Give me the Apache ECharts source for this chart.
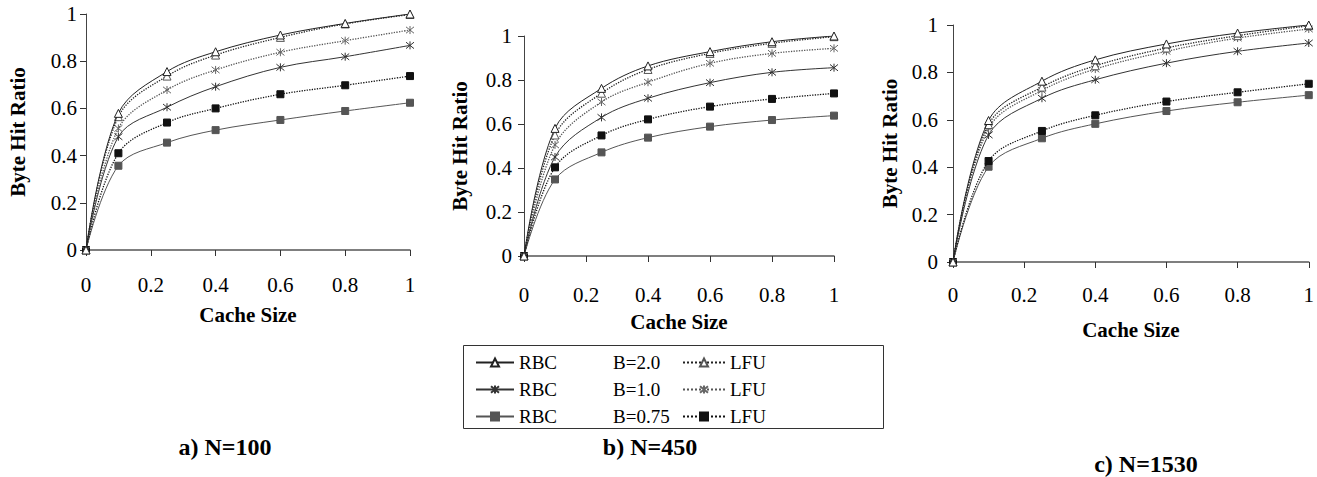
<!DOCTYPE html>
<html>
<head>
<meta charset="utf-8">
<script src="https://cdn.jsdelivr.net/npm/echarts@6/dist/echarts.min.js"></script>
<style>
  html, body { margin: 0; padding: 0; background: #fff; }
  #chart { width: 1317px; height: 477px; }
</style>
</head>
<body>
<div id="chart"></div>
<script>
// cache size points (x) shared by all three panels
var cacheSizes = [0, 0.1, 0.25, 0.4, 0.6, 0.8, 1];
var seriesNames = ['RBC B=0.75', 'LFU B=0.75', 'RBC B=1.0', 'LFU B=1.0', 'LFU B=2.0', 'RBC B=2.0'];
var betaLabels = ['B=2.0', 'B=1.0', 'B=0.75'];
var panelTitles = ['a) N=100', 'b) N=450', 'c) N=1530'];

// a) N=100
var n100_rbc075 = [0, 0.357, 0.455, 0.508, 0.551, 0.589, 0.624];
var n100_lfu075 = [0, 0.410, 0.540, 0.600, 0.660, 0.698, 0.737];
var n100_rbc10  = [0, 0.480, 0.605, 0.692, 0.774, 0.819, 0.867];
var n100_lfu10  = [0, 0.515, 0.678, 0.763, 0.838, 0.887, 0.932];
var n100_lfu20  = [0, 0.565, 0.737, 0.826, 0.901, 0.958, 0.998];
var n100_rbc20  = [0, 0.579, 0.756, 0.840, 0.911, 0.960, 1.000];

// b) N=450
var n450_rbc075 = [0, 0.348, 0.471, 0.538, 0.588, 0.618, 0.638];
var n450_lfu075 = [0, 0.403, 0.548, 0.621, 0.679, 0.714, 0.739];
var n450_rbc10  = [0, 0.450, 0.630, 0.717, 0.788, 0.835, 0.856];
var n450_lfu10  = [0, 0.505, 0.700, 0.790, 0.876, 0.921, 0.944];
var n450_lfu20  = [0, 0.550, 0.740, 0.848, 0.921, 0.967, 0.997];
var n450_rbc20  = [0, 0.580, 0.762, 0.864, 0.929, 0.974, 1.000];

// c) N=1530
var n1530_rbc075 = [0, 0.402, 0.522, 0.583, 0.637, 0.674, 0.704];
var n1530_lfu075 = [0, 0.426, 0.553, 0.619, 0.677, 0.716, 0.752];
var n1530_rbc10  = [0, 0.536, 0.691, 0.769, 0.839, 0.889, 0.924];
var n1530_lfu10  = [0, 0.564, 0.724, 0.814, 0.889, 0.945, 0.983];
var n1530_lfu20  = [0, 0.580, 0.738, 0.828, 0.903, 0.955, 0.997];
var n1530_rbc20  = [0, 0.597, 0.763, 0.853, 0.920, 0.966, 1.000];

var panels = [
  [n100_rbc075, n100_lfu075, n100_rbc10, n100_lfu10, n100_lfu20, n100_rbc20],
  [n450_rbc075, n450_lfu075, n450_rbc10, n450_lfu10, n450_lfu20, n450_rbc20],
  [n1530_rbc075, n1530_lfu075, n1530_rbc10, n1530_lfu10, n1530_lfu20, n1530_rbc20]
];

(function() {
  var serif = 'Liberation Serif';
  var star = 'path://M5,0L5,10M1,1L9,9M9,1L1,9';

  // look of each series, by name
  var looks = {
    'RBC B=2.0':  { line: '#222', type: 'solid', symbol: 'triangle', fill: '#fff', edge: '#222', size: 8 },
    'LFU B=2.0':  { line: '#222', type: 'dotted', symbol: 'triangle', fill: '#fff', edge: '#555', size: 8 },
    'RBC B=1.0':  { line: '#333', type: 'solid', symbol: star, fill: '#333', edge: '#333', size: 8 },
    'LFU B=1.0':  { line: '#555', type: 'dotted', symbol: star, fill: '#666', edge: '#666', size: 8 },
    'RBC B=0.75': { line: '#555', type: 'solid', symbol: 'rect', fill: '#555', edge: '#555', size: 7 },
    'LFU B=0.75': { line: '#111', type: 'dotted', symbol: 'rect', fill: '#111', edge: '#111', size: 7 }
  };

  // plot areas, x label margin, y label margin, name gaps
  var grids = [
    { left: 86, top: 14, width: 324, height: 236, xm: 24, ym: 9, xg: 54, yg: 58 },
    { left: 524, top: 36, width: 310, height: 220, xm: 28, ym: 12, xg: 55, yg: 54 },
    { left: 953, top: 25, width: 360, height: 237, xm: 22, ym: 15, xg: 57, yg: 53 }
  ];

  var chart = echarts.init(document.getElementById('chart'), null, { renderer: 'svg' });

  var xAxes = [], yAxes = [], series = [];
  grids.forEach(function(g, gi) {
    xAxes.push({
      type: 'value', gridIndex: gi, min: 0, max: 1, interval: 0.2,
      name: 'Cache Size', nameLocation: 'middle', nameGap: g.xg,
      nameTextStyle: { fontFamily: serif, fontWeight: 'bold', fontSize: 21, color: '#000' },
      axisLine: { lineStyle: { color: '#555', width: 1.5 } },
      axisTick: { show: true, length: 6, lineStyle: { color: '#333' } },
      axisLabel: { fontFamily: serif, fontSize: 21, color: '#000', margin: g.xm, showMaxLabel: true },
      splitLine: { show: false }
    });
    yAxes.push({
      type: 'value', gridIndex: gi, min: 0, max: 1, interval: 0.2,
      name: 'Byte Hit Ratio', nameLocation: 'middle', nameGap: g.yg, nameRotate: 90,
      nameTextStyle: { fontFamily: serif, fontWeight: 'bold', fontSize: 21, color: '#000' },
      axisLine: { show: true, lineStyle: { color: '#444', width: 1 } },
      axisTick: { show: true, length: 6, lineStyle: { color: '#333' } },
      axisLabel: { fontFamily: serif, fontSize: 21, color: '#000', margin: g.ym },
      splitLine: { show: false }
    });
    panels[gi].forEach(function(vals, si) {
      var name = seriesNames[si];
      var lk = looks[name];
      series.push({
        name: name, type: 'line', xAxisIndex: gi, yAxisIndex: gi,
        data: cacheSizes.map(function(x, i) { return [x, vals[i]]; }),
        smooth: 0.35,
        symbol: lk.symbol, symbolSize: lk.size,
        lineStyle: { color: lk.line, width: lk.type === 'dotted' ? 1.3 : 1, type: lk.type },
        itemStyle: { color: lk.fill, borderColor: lk.edge, borderWidth: 1 },
        emphasis: { disabled: true },
        z: 2 + si
      });
    });
  });

  var legendText = { fontFamily: serif, fontSize: 19, color: '#000' };
  var titleFont = 'bold 24px ' + serif;
  var graphics = [
    { type: 'rect', shape: { x: 463.5, y: 345.5, width: 420, height: 83 },
      style: { fill: 'none', stroke: '#333', lineWidth: 1 } },
    { type: 'text', x: 225, y: 447, style: { text: panelTitles[0], font: titleFont, fill: '#000', textAlign: 'center', textVerticalAlign: 'middle' } },
    { type: 'text', x: 650, y: 447, style: { text: panelTitles[1], font: titleFont, fill: '#000', textAlign: 'center', textVerticalAlign: 'middle' } },
    { type: 'text', x: 1146, y: 464, style: { text: panelTitles[2], font: titleFont, fill: '#000', textAlign: 'center', textVerticalAlign: 'middle' } }
  ];
  var rowY = [362, 389, 416];
  betaLabels.forEach(function(b, i) {
    graphics.push({ type: 'text', x: 613, y: rowY[i],
      style: { text: b, font: '19px ' + serif, fill: '#000', textVerticalAlign: 'middle' } });
  });

  chart.setOption({
    animation: false,
    backgroundColor: '#fff',
    grid: grids.map(function(g) { return { left: g.left, top: g.top, width: g.width, height: g.height }; }),
    xAxis: xAxes,
    yAxis: yAxes,
    legend: [
      {
        orient: 'vertical', left: 475, top: 353, itemWidth: 38, itemHeight: 10, itemGap: 8,
        selectedMode: false, padding: 0,
        data: ['RBC B=2.0', 'RBC B=1.0', 'RBC B=0.75'],
        formatter: function() { return 'RBC'; },
        textStyle: legendText
      },
      {
        orient: 'vertical', left: 682, top: 353, itemWidth: 42, itemHeight: 10, itemGap: 8,
        selectedMode: false, padding: 0,
        data: ['LFU B=2.0', 'LFU B=1.0', 'LFU B=0.75'],
        formatter: function() { return 'LFU'; },
        textStyle: legendText
      }
    ],
    graphic: graphics,
    series: series
  });
  window.addEventListener('resize', function() { chart.resize(); });
})();
</script>
</body>
</html>
